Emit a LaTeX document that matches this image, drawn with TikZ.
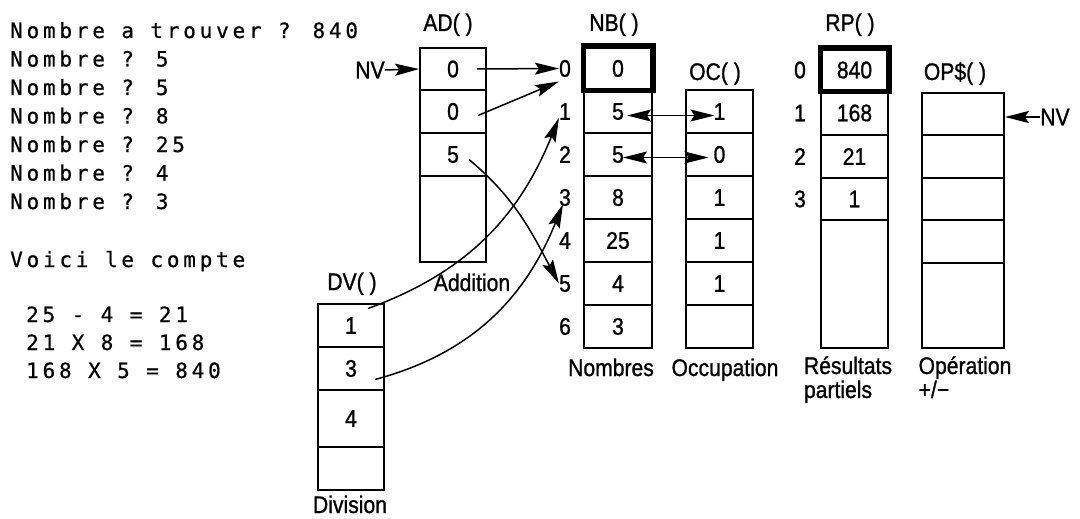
\documentclass[tikz,border=0pt]{standalone}
\usepackage{fontspec}
\newfontfamily\lab[FakeStretch=0.88,FakeBold=1]{Liberation Sans}
\newfontfamily\mono[LetterSpace=18,FakeBold=0.6]{DejaVu Sans Mono}
\usetikzlibrary{arrows.meta,calc}
\begin{document}
\begin{tikzpicture}[x=1pt,y=-1pt,
  lbl/.style={inner sep=0pt,font=\lab\fontsize{24pt}{28pt}\selectfont},
  cell/.style={draw,line width=1.7pt,inner sep=0pt,font=\lab\fontsize{24pt}{28pt}\selectfont},
  thick cell/.style={cell,line width=3.5pt},
  mtxt/.style={inner sep=0pt,anchor=base west,font=\mono\fontsize{21pt}{24pt}\selectfont},
  arr/.style={line width=1.5pt,-{Stealth[length=24pt,width=12pt,inset=4pt]}},
  darr/.style={line width=1.5pt,{Stealth[length=24pt,width=12pt,inset=4pt]}-{Stealth[length=24pt,width=12pt,inset=4pt]}}]
\useasboundingbox (0,0) rectangle (1080,519);

% left screen text
\node[mtxt] (m1) at (10,38) {Nombre a trouver ? 840};
\node[mtxt] (m2) at (10,66.5) {Nombre ? 5};
\node[mtxt] (m3) at (10,95) {Nombre ? 5};
\node[mtxt] (m4) at (10,123.5) {Nombre ? 8};
\node[mtxt] (m5) at (10,152) {Nombre ? 25};
\node[mtxt] (m6) at (10,180.5) {Nombre ? 4};
\node[mtxt] (m7) at (10,209) {Nombre ? 3};
\node[mtxt] (m8) at (10,267) {Voici le compte};
\node[mtxt] (m9) at (26,322) {25 - 4 = 21};
\node[mtxt] (m10) at (26,350) {21 X 8 = 168};
\node[mtxt] (m11) at (26,378) {168 X 5 = 840};

% AD()
\node[lbl,anchor=base] (tad) at (448,31) {AD( )};
\node[cell,minimum width=66pt,minimum height=42pt] (ad0) at (453,69) {0};
\node[cell,minimum width=66pt,minimum height=43pt] (ad1) at (453,111.5) {0};
\node[cell,minimum width=66pt,minimum height=43pt] (ad2) at (453,154.5) {5};
\node[cell,minimum width=66pt,minimum height=86pt] (ad3) at (453,219) {};
\node[lbl,anchor=base] (lad) at (472,291) {Addition};

% DV()
\node[lbl,anchor=base] (tdv) at (352,290) {DV( )};
\node[cell,minimum width=66pt,minimum height=43pt] (dv0) at (351,325.5) {1};
\node[cell,minimum width=66pt,minimum height=43pt] (dv1) at (351,368.5) {3};
\node[cell,minimum width=66pt,minimum height=57pt] (dv2) at (351,418.5) {4};
\node[cell,minimum width=66pt,minimum height=43pt] (dv3) at (351,468.5) {};
\node[lbl,anchor=base] (ldv) at (350,513) {Division};

% NB()
\node[lbl,anchor=base] (tnb) at (614,31) {NB( )};
\node[thick cell,minimum width=68pt,minimum height=43pt] (nb0) at (618,68.5) {0};
\node[cell,minimum width=68pt,minimum height=43pt] (nb1) at (618,111.5) {5};
\node[cell,minimum width=68pt,minimum height=43pt] (nb2) at (618,154.5) {5};
\node[cell,minimum width=68pt,minimum height=43pt] (nb3) at (618,197.5) {8};
\node[cell,minimum width=68pt,minimum height=43pt] (nb4) at (618,240.5) {25};
\node[cell,minimum width=68pt,minimum height=43pt] (nb5) at (618,283.5) {4};
\node[cell,minimum width=68pt,minimum height=43pt] (nb6) at (618,326.5) {3};
\draw[line width=3.5pt] (nb0.north west) rectangle (nb0.south east);
\node[lbl] (i0) at (565,68.5) {0};
\node[lbl] (i1) at (565,111.5) {1};
\node[lbl] (i2) at (565,154.5) {2};
\node[lbl] (i3) at (565,197.5) {3};
\node[lbl] (i4) at (565,240.5) {4};
\node[lbl] (i5) at (565,283.5) {5};
\node[lbl] (i6) at (565,326.5) {6};
\node[lbl,anchor=base] (lnb) at (611,376) {Nombres};

% OC()
\node[lbl,anchor=base] (toc) at (715,80) {OC( )};
\node[cell,minimum width=67pt,minimum height=43pt] (oc1) at (719.5,111.5) {1};
\node[cell,minimum width=67pt,minimum height=43pt] (oc2) at (719.5,154.5) {0};
\node[cell,minimum width=67pt,minimum height=43pt] (oc3) at (719.5,197.5) {1};
\node[cell,minimum width=67pt,minimum height=43pt] (oc4) at (719.5,240.5) {1};
\node[cell,minimum width=67pt,minimum height=43pt] (oc5) at (719.5,283.5) {1};
\node[cell,minimum width=67pt,minimum height=43pt] (oc6) at (719.5,326.5) {};
\node[lbl,anchor=base] (loc) at (725,376) {Occupation};

% RP()
\node[lbl,anchor=base] (trp) at (850,31) {RP( )};
\node[thick cell,minimum width=67pt,minimum height=42pt] (rp0) at (854.5,70) {840};
\node[cell,minimum width=67pt,minimum height=44pt] (rp1) at (854.5,113) {168};
\node[cell,minimum width=67pt,minimum height=43pt] (rp2) at (854.5,156.5) {21};
\node[cell,minimum width=67pt,minimum height=42pt] (rp3) at (854.5,199) {1};
\node[cell,minimum width=67pt,minimum height=128pt] (rp4) at (854.5,284) {};
\draw[line width=3.5pt] (rp0.north west) rectangle (rp0.south east);
\node[lbl] (r0) at (800,70) {0};
\node[lbl] (r1) at (800,113) {1};
\node[lbl] (r2) at (800,156.5) {2};
\node[lbl] (r3) at (800,199) {3};
\node[lbl,anchor=base] (lrp) at (848,374) {Résultats};
\node[lbl,anchor=base west] (lrp2) at (lrp.base west) [yshift=-24pt] {partiels};

% OP$()
\node[lbl,anchor=base] (top) at (955,80) {OP\$( )};
\node[cell,minimum width=82pt,minimum height=42pt] (op0) at (963,114) {};
\node[cell,minimum width=82pt,minimum height=43pt] (op1) at (963,156.5) {};
\node[cell,minimum width=82pt,minimum height=42pt] (op2) at (963,199) {};
\node[cell,minimum width=82pt,minimum height=43pt] (op3) at (963,241.5) {};
\node[cell,minimum width=82pt,minimum height=85pt] (op4) at (963,305.5) {};
\node[lbl,anchor=base] (lop) at (965,374) {Opération};
\node[lbl,anchor=base west] (lop2) at (lop.base west) [yshift=-24pt] {+/−};

% NV pointers
\node[lbl] (nvl) at (370,70) {NV};
\node[lbl] (nvr) at (1055,117) {NV};
\draw[arr] (nvl.east) -- (ad0.west);
\draw[arr] (nvr.west) -- ($(op0.east)+(0,3)$);

% connectors
\draw[arr] ($(ad0.center)+(24,0)$) -- (i0.west);
\draw[arr] ($(ad1.center)+(25,4)$) -- ($(i0.west)+(0,13)$);
\draw[arr] ($(ad2.center)+(16,5)$) to[out=-40,in=118] (i5.west);
\draw[arr] ($(dv0.center)+(17,-17)$) to[out=20,in=-112] ($(i1.south west)+(0,-2)$);
\draw[arr] ($(dv1.center)+(24,11)$) to[out=15,in=-112] ($(i3.south)+(-2,-2)$);
\draw[darr] ($(nb1.center)+(9,4)$) -- ($(oc1.center)+(-5,4)$);
\draw[darr] ($(nb2.center)+(5,3)$) -- ($(oc2.center)+(-11,3)$);
\end{tikzpicture}
\end{document}
